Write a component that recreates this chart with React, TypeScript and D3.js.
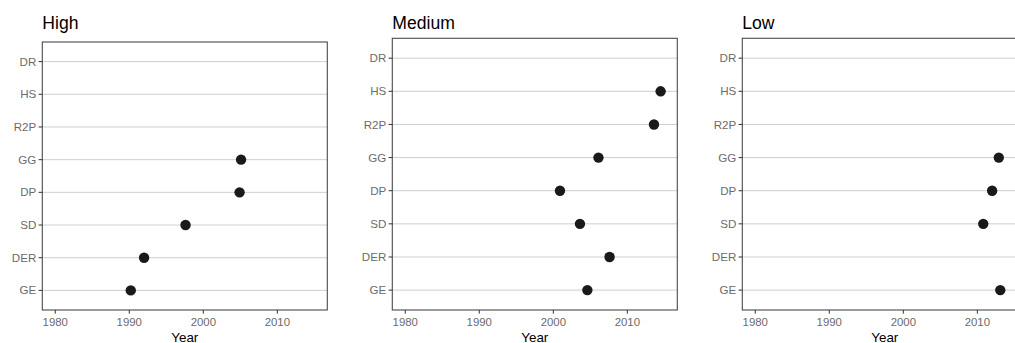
import React from "react";
import * as d3 from "d3";

const categories = ["DR", "HS", "R2P", "GG", "DP", "SD", "DER", "GE"];
const panelTitles = ["High", "Medium", "Low"];
const highValues: (number | null)[] = [null, null, null, 2005.1, 2004.9, 1997.6, 1992.0, 1990.2];
const mediumValues: (number | null)[] = [null, 2014.5, 2013.6, 2006.1, 2000.9, 2003.6, 2007.6, 2004.6];
const lowValues: (number | null)[] = [null, null, null, 2012.9, 2012.0, 2010.8, null, 2013.1];
const xTicks = [1980, 1990, 2000, 2010];
const xLimits = [1980, 2015];

const seriesList = [highValues, mediumValues, lowValues];
const FONT = "'Liberation Sans', Arial, Helvetica, sans-serif";

function Panel({ index, title, values }: { index: number; title: string; values: (number | null)[] }) {
  const left = 42.3 + index * 350;
  const width = 285;
  const top = index === 0 ? 42 : 38.3;
  const bottom = 310;
  const span = xLimits[1] - xLimits[0];
  const x = d3
    .scaleLinear()
    .domain([xLimits[0] - span * 0.05, xLimits[1] + span * 0.05])
    .range([left, left + width]);
  const y = d3.scalePoint<string>().domain(categories).range([top, bottom]).padding(0.6);
  return (
    <g>
      <text x={left} y={29} fontSize={17.6} fill="#000" fontFamily={FONT}>
        {title}
      </text>
      {categories.map((c) => (
        <line key={"g" + c} x1={left} x2={left + width} y1={y(c)} y2={y(c)} stroke="#cfcfcf" strokeWidth={1} />
      ))}
      {categories.map((c, i) =>
        values[i] == null ? null : (
          <circle key={"p" + c} cx={x(values[i] as number)} cy={y(c)} r={5.2} fill="#1a1a1a" />
        )
      )}
      <rect x={left} y={top} width={width} height={bottom - top} fill="none" stroke="#4a4a4a" strokeWidth={1.1} />
      {categories.map((c) => (
        <g key={"yt" + c}>
          <line x1={left - 3.7} x2={left} y1={y(c)} y2={y(c)} stroke="#333" strokeWidth={1} />
          <text
            x={left - 6}
            y={y(c)}
            dy="0.35em"
            textAnchor="end"
            fontSize={11.6}
            fill="#6b6b6b"
            fontFamily={FONT}
          >
            {c}
          </text>
        </g>
      ))}
      {xTicks.map((t) => (
        <g key={"xt" + t}>
          <line x1={x(t)} x2={x(t)} y1={bottom} y2={bottom + 3.7} stroke="#333" strokeWidth={1} />
          <text x={x(t)} y={326} textAnchor="middle" fontSize={11.4} fill="#6b6b6b" fontFamily={FONT}>
            {t}
          </text>
        </g>
      ))}
      <text x={left + width / 2} y={341.5} textAnchor="middle" fontSize={13.4} fill="#000" fontFamily={FONT}>
        Year
      </text>
    </g>
  );
}

export default function App() {
  return (
    <svg
      width={1015}
      height={343}
      style={{ position: "absolute", left: 0, top: 0, display: "block", background: "#fff" }}
    >
      <rect x={0} y={0} width={1015} height={343} fill="#fff" />
      {panelTitles.map((t, i) => (
        <Panel key={t} index={i} title={t} values={seriesList[i]} />
      ))}
    </svg>
  );
}
